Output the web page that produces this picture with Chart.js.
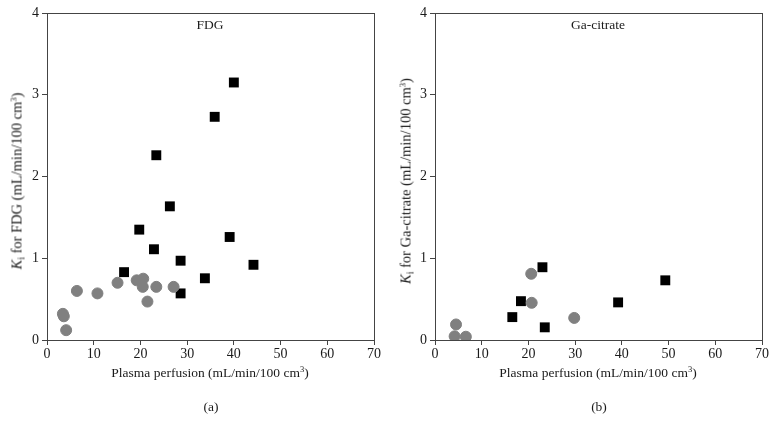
<!DOCTYPE html>
<html>
<head>
<meta charset="utf-8">
<script src="https://cdn.jsdelivr.net/npm/chart.js@4/dist/chart.umd.min.js"></script>
<style>
  body { margin: 0; background: #fff; font-family: "Liberation Serif", serif; color: #1a1a1a; }
  #wrap { position: relative; width: 776px; height: 425px; }
  .panel { position: absolute; top: 0; width: 388px; height: 425px; }
  .panel canvas { position: absolute; left: 0; top: 0; }
  .lbl { position: absolute; font-size: 13.5px; white-space: nowrap; transform: translate(-50%, -50%); }
  .ytitle { position: absolute; font-size: 14.5px; white-space: nowrap; transform: translate(-50%, -50%) rotate(-90deg); }
  sup { font-size: 8.5px; vertical-align: 5px; line-height: 0; }
  sub { font-size: 9.5px; vertical-align: -3px; line-height: 0; }
</style>
</head>
<body>
<div id="wrap">
  <div class="panel" style="left:0">
    <canvas id="chartA" width="388" height="425"></canvas>
    <div class="lbl" style="left:210px;top:25px">FDG</div>
    <div class="ytitle" style="left:17px;top:181px"><i>K</i><sub>i</sub> for FDG (mL/min/100 cm<sup>3</sup>)</div>
    <div class="lbl" style="left:210px;top:373px">Plasma perfusion (mL/min/100 cm<sup>3</sup>)</div>
    <div class="lbl" style="left:211px;top:407px">(a)</div>
  </div>
  <div class="panel" style="left:388px">
    <canvas id="chartB" width="388" height="425"></canvas>
    <div class="lbl" style="left:210px;top:25px">Ga-citrate</div>
    <div class="ytitle" style="left:18px;top:181px"><i>K</i><sub>i</sub> for Ga-citrate (mL/min/100 cm<sup>3</sup>)</div>
    <div class="lbl" style="left:210px;top:373px">Plasma perfusion (mL/min/100 cm<sup>3</sup>)</div>
    <div class="lbl" style="left:211px;top:407px">(b)</div>
  </div>
</div>
<script>
// ===================== Data ===================

// (a) FDG
const fdgSquareX = [40.0, 35.9, 23.4, 26.3, 19.75, 39.1, 22.9, 28.6, 44.2, 16.5, 33.8, 28.6];
const fdgSquareY = [3.15, 2.73, 2.26, 1.635, 1.35, 1.26, 1.11, 0.97, 0.92, 0.83, 0.755, 0.57];
const fdgCircleX = [3.4, 3.6, 4.1, 6.4, 10.8, 15.1, 19.2, 20.6, 20.5, 23.4, 27.1, 21.5];
const fdgCircleY = [0.32, 0.29, 0.12, 0.60, 0.57, 0.70, 0.73, 0.75, 0.65, 0.65, 0.65, 0.47];

// (b) Ga-citrate
const gaSquareX = [23.0, 49.3, 18.4, 39.2, 16.55, 23.5];
const gaSquareY = [0.89, 0.73, 0.475, 0.46, 0.28, 0.155];
const gaCircleX = [20.6, 20.7, 29.8, 4.5, 4.2, 6.6];
const gaCircleY = [0.81, 0.455, 0.27, 0.19, 0.045, 0.04];

const xTicks = [0, 10, 20, 30, 40, 50, 60, 70];
const yTicks = [0, 1, 2, 3, 4];

// ===================== Chart ===================

const toPoints = (xs, ys) => xs.map((x, i) => ({ x: x, y: ys[i] }));

const frameBox = {
  id: 'frameBox',
  afterDraw(chart) {
    const a = chart.chartArea;
    const ctx = chart.ctx;
    ctx.save();
    ctx.strokeStyle = '#444';
    ctx.lineWidth = 1;
    ctx.strokeRect(Math.round(a.left) + 0.5, Math.round(a.top) + 0.5,
                   Math.round(a.right - a.left), Math.round(a.bottom - a.top));
    ctx.restore();
  }
};

const tickFont = { family: 'Liberation Serif', size: 14 };

function makeChart(id, squares, circles) {
  return new Chart(document.getElementById(id), {
    type: 'scatter',
    data: {
      datasets: [
        {
          data: circles,
          pointStyle: 'circle',
          pointRadius: 5.5,
          backgroundColor: '#808080',
          borderColor: '#808080',
          borderWidth: 1
        },
        {
          data: squares,
          pointStyle: 'rect',
          pointRadius: 7,
          backgroundColor: '#000',
          borderColor: '#000',
          borderWidth: 0
        }
      ]
    },
    options: {
      responsive: false,
      animation: false,
      layout: { padding: { left: 0, right: 14, top: 13, bottom: 0 } },
      plugins: { legend: { display: false }, tooltip: { enabled: false } },
      scales: {
        x: {
          type: 'linear',
          min: 0,
          max: 70,
          afterBuildTicks: s => { s.ticks = xTicks.map(v => ({ value: v })); },
          afterFit: s => { s.height = 85; },
          grid: { drawOnChartArea: false, drawTicks: true, tickLength: 5, color: '#444' },
          border: { color: '#444' },
          ticks: { font: tickFont, color: '#1a1a1a', padding: 1, maxRotation: 0 }
        },
        y: {
          type: 'linear',
          min: 0,
          max: 4,
          afterBuildTicks: s => { s.ticks = yTicks.map(v => ({ value: v })); },
          afterFit: s => { s.width = 47; },
          grid: { drawOnChartArea: false, drawTicks: true, tickLength: 5, color: '#444' },
          border: { color: '#444' },
          ticks: { font: tickFont, color: '#1a1a1a', padding: 3 }
        }
      }
    },
    plugins: [frameBox]
  });
}

document.addEventListener('DOMContentLoaded', () => {
  makeChart('chartA', toPoints(fdgSquareX, fdgSquareY), toPoints(fdgCircleX, fdgCircleY));
  makeChart('chartB', toPoints(gaSquareX, gaSquareY), toPoints(gaCircleX, gaCircleY));
});
</script>
</body>
</html>
